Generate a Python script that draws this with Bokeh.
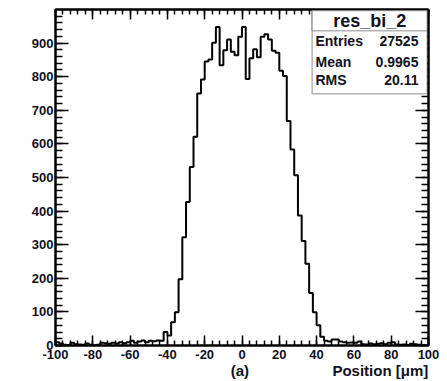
import numpy as np
from bokeh.plotting import figure
from bokeh.models import FixedTicker, LinearAxis, Range1d, BoxAnnotation, Label
from bokeh.embed import file_html
from bokeh.resources import INLINE

# ---- data ----
x_min = -100
bin_width = 2
counts = [
    # -100 .. -44
    10, 6, 2, 1, 8, 4, 3, 2, 6, 2, 1, 2, 8, 7, 5, 8, 6, 10, 7, 10, 14, 8, 12, 15, 10, 14, 13, 15, 14,
    # -42 .. 42
    40, 30, 69, 99, 197, 322, 427, 531, 621, 750, 792, 845, 851, 901, 948, 834, 879, 911, 874, 864,
    919, 948, 793, 855, 882, 858, 919, 926, 911, 877, 871, 818, 802, 668, 583, 507, 387, 311, 243,
    156, 99, 60, 26,
    # 44 .. 98
    14, 12, 18, 18, 12, 10, 8, 9, 8, 12, 4, 3, 6, 4, 5, 7, 4, 8, 10, 3, 2, 3, 1, 5, 4, 2, 1, 1,
]
x_ticks = [-100, -80, -60, -40, -20, 0, 20, 40, 60, 80, 100]
x_tick_labels = ["-100", "-80", "-60", "-40", "-20", "0", "20", "40", "60", "80", "100"]
x_minor = list(range(-100, 101, 4))
y_ticks = [0, 100, 200, 300, 400, 500, 600, 700, 800, 900]
y_minor = list(range(0, 1000, 20))
hist_name = "res_bi_2"
stat_names = ["Entries", "Mean", "RMS"]
stat_values = ["27525", "0.9965", "20.11"]
x_title = "Position [\u03bcm]"
caption = "(a)"

FONT = "Liberation Sans"
NB = "\u00a0"

edges = x_min + bin_width * np.arange(len(counts) + 1)
ys = list(counts) + [counts[-1]]

p = figure(width=447, height=381, output_backend="svg", toolbar_location=None,
           x_range=Range1d(-100, 100), y_range=Range1d(0, 1000),
           min_border_left=55, min_border_right=19, min_border_top=9, min_border_bottom=36)
p.xgrid.visible = False
p.ygrid.visible = False
p.outline_line_color = "black"
p.outline_line_width = 2
p.background_fill_color = "white"
p.border_fill_color = "white"

def style_axis(ax, ticks, minor, tin, tmin, show_labels):
    ax.ticker = FixedTicker(ticks=ticks, minor_ticks=minor)
    ax.axis_line_color = "black"
    ax.axis_line_width = 2
    ax.major_tick_line_color = "black"
    ax.major_tick_line_width = 1.5
    ax.minor_tick_line_color = "black"
    ax.minor_tick_line_width = 1.5
    ax.major_tick_in = tin
    ax.major_tick_out = 0
    ax.minor_tick_in = tmin
    ax.minor_tick_out = 0
    if show_labels:
        ax.major_label_text_font = FONT
        ax.major_label_text_font_style = "bold"
        ax.major_label_text_font_size = "13px"
        ax.major_label_text_color = "#111122"
        ax.major_label_standoff = 3
    else:
        ax.major_label_text_color = None
        ax.major_label_text_font_size = "1px"
        ax.major_label_standoff = 0

style_axis(p.xaxis[0], x_ticks, x_minor, 10, 5, True)
style_axis(p.yaxis[0], y_ticks, y_minor, 13, 7, True)
p.yaxis[0].major_label_standoff = 2
p.xaxis[0].major_label_standoff = 4
p.xaxis[0].major_label_overrides = {t: s for t, s in zip(x_ticks, x_tick_labels)}

# x-axis title (right-aligned) sharing its line with the caption below the frame
xa = p.xaxis[0]
xa.axis_label = NB * 42 + caption + NB * 20 + x_title
xa.axis_label_text_font = FONT
xa.axis_label_text_font_style = "bold"
xa.axis_label_text_font_size = "15px"
xa.axis_label_text_color = "#111122"
xa.axis_label_standoff = 0

top = LinearAxis()
style_axis(top, x_ticks, x_minor, 10, 5, False)
p.add_layout(top, "above")
right = LinearAxis()
style_axis(right, y_ticks, y_minor, 13, 7, False)
p.add_layout(right, "right")

p.step(edges, ys, mode="after", line_color="black", line_width=2)

# stats box
bx_l, bx_r, bx_t, bx_b, bx_sep = 37.6, 99.3, 997, 749, 937
p.add_layout(BoxAnnotation(left=bx_l, right=bx_r, top=bx_t, bottom=bx_b,
                           fill_color="white", fill_alpha=1, line_color="black", line_width=1.5))
p.add_layout(BoxAnnotation(left=bx_l, right=bx_r, top=bx_t, bottom=bx_sep,
                           fill_color="white", fill_alpha=1, line_color="black", line_width=1.5))
p.add_layout(Label(x=(bx_l + bx_r) / 2, y=967, text=hist_name, text_align="center",
                   text_baseline="middle", text_font=FONT, text_font_style="bold",
                   text_font_size="18px", text_color="#111122"))
row_y = [907, 843, 789]
for name, val, yy in zip(stat_names, stat_values, row_y):
    p.add_layout(Label(x=39.4, y=yy, text=name, text_align="left", text_baseline="middle",
                       text_font=FONT, text_font_style="bold", text_font_size="14px",
                       text_color="#111122"))
    p.add_layout(Label(x=94.6, y=yy, text=val, text_align="right", text_baseline="middle",
                       text_font=FONT, text_font_style="bold", text_font_size="14px",
                       text_color="#111122"))

open("out.html", "w").write(file_html(p, INLINE))
